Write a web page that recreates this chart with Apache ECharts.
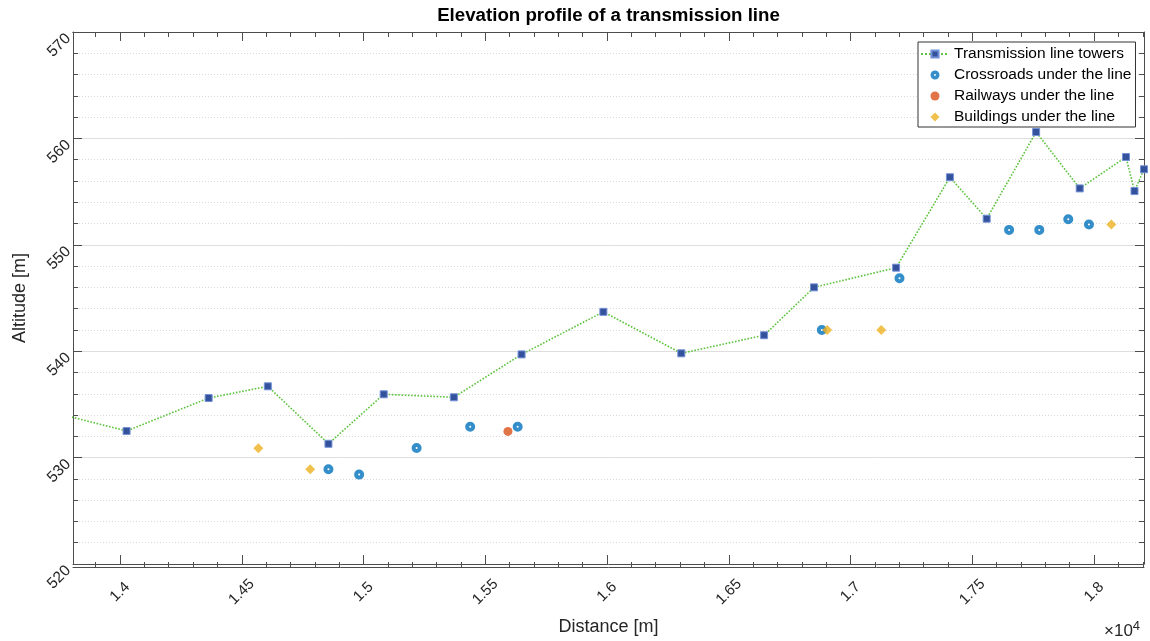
<!DOCTYPE html>
<html>
<head>
<meta charset="utf-8">
<script src="https://cdn.jsdelivr.net/npm/echarts@6/dist/echarts.min.js"></script>
<style>
  html, body { margin: 0; padding: 0; background: #fff; }
  #chart { width: 1150px; height: 641px; }
</style>
</head>
<body>
<div id="chart"></div>
<script>
// ---- Data ----
const towerX = [13700, 14027, 14364, 14607, 14856, 15083, 15371, 15649, 15985, 16305, 16645, 16850, 17187, 17408, 17559, 17762, 17941, 18131, 18166, 18205];
const towerY = [534.4, 532.5, 535.6, 536.7, 531.3, 535.95, 535.67, 539.7, 543.7, 539.8, 541.5, 546.0, 547.85, 556.35, 552.45, 560.6, 555.3, 558.25, 555.05, 557.1];

const crossX = [14856, 14982, 15218, 15438, 15633, 16882, 17201, 17651, 17775, 17894, 17979];
const crossY = [528.9, 528.4, 530.9, 532.9, 532.9, 542.0, 546.85, 551.4, 551.4, 552.4, 551.9];

const railX = [15593];
const railY = [532.46];

const buildX = [14568, 14781, 16904, 17126, 18071];
const buildY = [530.87, 528.9, 542.0, 542.0, 551.9];

const xRange = [13807, 18205];
const yRange = [520, 570];
const xMajorTicks = [14000, 14500, 15000, 15500, 16000, 16500, 17000, 17500, 18000];
const xTickLabels = ['1.4', '1.45', '1.5', '1.55', '1.6', '1.65', '1.7', '1.75', '1.8'];

const seriesNames = ['Transmission line towers', 'Crossroads under the line', 'Railways under the line', 'Buildings under the line'];

// ---- helpers ----
const zip = (a, b) => a.map((v, i) => [v, b[i]]);
const xMinorTicks = [];
for (let v = Math.ceil(xRange[0] / 100) * 100; v <= xRange[1]; v += 100) {
  if (v % 500 !== 0) xMinorTicks.push(v);
}

const FONT = "'Liberation Sans', Arial, Helvetica, sans-serif";
const AXC = '#4d4d4d';
const TXT = '#262626';
const ringPath = 'path://M0,5a5,5 0 1,0 10,0a5,5 0 1,0 -10,0zM4,5a1,1 0 1,1 2,0a1,1 0 1,1 -2,0z';
const diamondPath = 'path://M5,0L10,5L5,10L0,5z';

const gridRect = { left: 73, right: 6, top: 32, bottom: 74 };

function xAxisBase(gridIndex, position, ticks, len, withLabel) {
  return {
    type: 'value', gridIndex, position,
    min: xRange[0], max: xRange[1],
    axisLine: { show: true, lineStyle: { color: AXC, width: 1 } },
    axisTick: { show: true, inside: true, length: len, customValues: ticks, lineStyle: { color: AXC, width: 1 } },
    axisLabel: withLabel ? {
      show: true, customValues: xMajorTicks, rotate: 45, margin: 28,
      align: 'center', verticalAlign: 'middle',
      fontSize: 15, fontFamily: FONT, color: TXT,
      formatter: v => { const i = xMajorTicks.indexOf(v); return i >= 0 ? xTickLabels[i] : ''; }
    } : { show: false },
    splitLine: { show: false },
    minorTick: { show: false },
    minorSplitLine: { show: false }
  };
}

const option = {
  animation: false,
  backgroundColor: '#fff',
  grid: [
    Object.assign({ containLabel: false }, gridRect),
    Object.assign({ containLabel: false }, gridRect)
  ],
  xAxis: [
    Object.assign(xAxisBase(0, 'bottom', xMajorTicks, 9, true), {
      name: 'Distance [m]', nameLocation: 'middle', nameGap: 54,
      nameTextStyle: { fontSize: 18, fontFamily: FONT, color: TXT }
    }),
    xAxisBase(0, 'top', xMajorTicks, 9, false),
    xAxisBase(1, 'bottom', xMinorTicks, 5, false),
    xAxisBase(1, 'top', xMinorTicks, 5, false)
  ],
  yAxis: [
    {
      type: 'value', gridIndex: 0, position: 'left',
      min: yRange[0], max: yRange[1], interval: 10,
      name: 'Altitude [m]', nameLocation: 'middle', nameGap: 44,
      nameTextStyle: { fontSize: 18, fontFamily: FONT, color: TXT },
      axisLine: { show: true, lineStyle: { color: AXC, width: 1 } },
      axisTick: { show: true, inside: true, length: 9, lineStyle: { color: AXC } },
      minorTick: { show: true, splitNumber: 5, length: 5, lineStyle: { color: AXC } },
      axisLabel: { rotate: 45, margin: 9, align: 'right', verticalAlign: 'top', lineHeight: 12,
                   fontSize: 15.5, fontFamily: FONT, color: TXT },
      splitLine: { show: true, lineStyle: { color: '#dedede', width: 1, type: 'solid' } },
      minorSplitLine: { show: true, lineStyle: { color: '#d9d9d9', width: 1, type: [1, 2] } }
    },
    {
      type: 'value', gridIndex: 0, position: 'right',
      min: yRange[0], max: yRange[1], interval: 10,
      axisLine: { show: true, lineStyle: { color: AXC, width: 1 } },
      axisTick: { show: true, inside: true, length: 9, lineStyle: { color: AXC } },
      minorTick: { show: true, splitNumber: 5, length: 5, lineStyle: { color: AXC } },
      axisLabel: { show: false },
      splitLine: { show: false },
      minorSplitLine: { show: false }
    },
    {
      type: 'value', gridIndex: 1, min: yRange[0], max: yRange[1], show: false
    }
  ],
  legend: {
    orient: 'vertical',
    left: 918, top: 42,
    padding: [4, 4, 2, 2],
    itemGap: 5,
    itemWidth: 28, itemHeight: 9,
    backgroundColor: '#fff',
    borderColor: '#333', borderWidth: 1, borderRadius: 0,
    selectedMode: false,
    textStyle: { fontSize: 15.5, fontFamily: FONT, color: '#000', lineHeight: 16 },
    data: seriesNames
  },
  graphic: [
    {
      type: 'text', x: 608.5, y: 6, z: 100,
      style: {
        text: 'Elevation profile of a transmission line',
        textAlign: 'center', textVerticalAlign: 'top',
        font: "bold 18.7px 'Liberation Sans', Arial, sans-serif", fill: '#000'
      }
    },
    {
      type: 'text', x: 1104, y: 620, z: 100,
      style: {
        text: '{a|×10}{b|4}',
        fill: TXT,
        rich: {
          a: { fontSize: 17, fontFamily: FONT, color: TXT },
          b: { fontSize: 13, fontFamily: FONT, color: TXT, padding: [0, 0, 10, 0] }
        }
      }
    }
  ],
  series: [
    {
      name: seriesNames[0], type: 'line', xAxisIndex: 0, yAxisIndex: 0,
      data: zip(towerX, towerY),
      clip: true,
      symbol: 'rect', symbolSize: 7, showAllSymbol: true,
      itemStyle: { color: '#34519c', borderColor: '#7391d6', borderWidth: 1 },
      lineStyle: { color: '#5cc43c', width: 1.6, type: 'dotted' },
      z: 3
    },
    {
      name: seriesNames[1], type: 'scatter', xAxisIndex: 0, yAxisIndex: 0,
      data: zip(crossX, crossY),
      symbol: ringPath, symbolSize: 10,
      itemStyle: { color: '#0072BD' },
      z: 4
    },
    {
      name: seriesNames[2], type: 'scatter', xAxisIndex: 0, yAxisIndex: 0,
      data: zip(railX, railY),
      symbol: 'circle', symbolSize: 9,
      itemStyle: { color: '#D95319' },
      z: 4
    },
    {
      name: seriesNames[3], type: 'scatter', xAxisIndex: 0, yAxisIndex: 0,
      data: zip(buildX, buildY),
      symbol: diamondPath, symbolSize: 10,
      itemStyle: { color: '#EDB120' },
      z: 5
    }
  ]
};

const chart = echarts.init(document.getElementById('chart'), null, { renderer: 'canvas' });
chart.setOption(option);
</script>
</body>
</html>
